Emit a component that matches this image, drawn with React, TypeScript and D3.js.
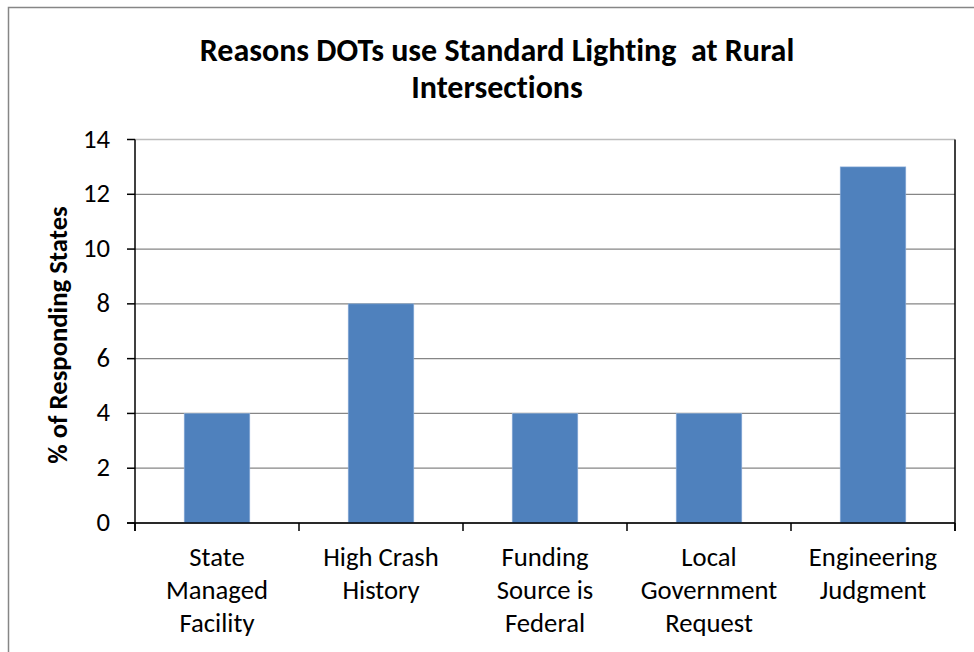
import React from "react";
import * as d3 from "d3";

const categories: string[][] = [
  ["State", "Managed", "Facility"],
  ["High Crash", "History"],
  ["Funding", "Source is", "Federal"],
  ["Local", "Government", "Request"],
  ["Engineering", "Judgment"],
];
const values: number[] = [4, 8, 4, 4, 13];
const yTicks: number[] = [0, 2, 4, 6, 8, 10, 12, 14];
const titleLines: string[] = ["Reasons DOTs use Standard Lighting  at Rural", "Intersections"];
const yTitle = "% of Responding States";

const W = 974;
const H = 652;
const FONT = "Carlito, Calibri, 'Open Sans', 'Liberation Sans', sans-serif";

export default function App() {
  const left = 135, right = 955, top = 139.5, bottom = 523;
  const keys = categories.map((c) => c.join(" "));
  const x = d3.scaleBand<string>().domain(keys).range([left, right]).paddingInner(0.6).paddingOuter(0.3);
  const xOuter = d3.scaleBand<string>().domain(keys).range([left, right]);
  const y = d3.scaleLinear().domain([0, 14]).range([bottom, top]);
  const tickXs = [left, ...keys.map((k) => (xOuter(k) as number) + xOuter.bandwidth())];

  return (
    <svg width={W} height={H} style={{ position: "absolute", left: 0, top: 0, display: "block", fontVariantLigatures: "none" }}>
      <rect x={0} y={0} width={W} height={H} fill="#fff" />
      <path d={`M8.5,${H} V7.5 H${W}`} fill="none" stroke="#868686" strokeWidth={1.5} />
      {titleLines.map((t, i) => (
        <text key={i} x={497} y={61 + i * 37} textAnchor="middle" fontFamily={FONT}
          fontWeight="bold" fontSize={32} fill="#000" style={{ whiteSpace: "pre" }}>{t}</text>
      ))}
      {yTicks.map((t) => (
        <line key={"g" + t} x1={left} x2={right} y1={y(t)} y2={y(t)}
          stroke={t === 14 ? "#bdbdbd" : "#868686"} strokeWidth={1.3} />
      ))}
      {values.map((v, i) => (
        <rect key={"b" + i} x={x(keys[i])} y={y(v)} width={x.bandwidth()} height={y(0) - y(v)}
          fill="#4F81BD" stroke="#8FB0DA" strokeWidth={0.6} />
      ))}
      <line x1={left} x2={left} y1={top} y2={bottom + 8} stroke="#000" strokeWidth={1.5} />
      <line x1={right} x2={right} y1={top} y2={bottom + 8} stroke="#000" strokeWidth={1.5} />
      <line x1={left - 8} x2={right} y1={bottom} y2={bottom} stroke="#000" strokeWidth={1.5} />
      {yTicks.map((t) => (
        <g key={"t" + t}>
          <line x1={left - 8} x2={left} y1={y(t)} y2={y(t)} stroke="#000" strokeWidth={1.5} />
          <text x={110} y={y(t) + 8} textAnchor="end" fontFamily={FONT} fontSize={26.7} fill="#000">{t}</text>
        </g>
      ))}
      {tickXs.map((tx, i) => (
        <line key={"xt" + i} x1={tx} x2={tx} y1={bottom} y2={bottom + 8} stroke="#000" strokeWidth={1.5} />
      ))}
      {categories.map((lines, i) => {
        const cx = (xOuter(keys[i]) as number) + xOuter.bandwidth() / 2;
        return lines.map((l, j) => (
          <text key={"c" + i + j} x={cx} y={566 + j * 33} textAnchor="middle" fontFamily={FONT}
            fontSize={26.7} fill="#000">{l}</text>
        ));
      })}
      <text transform={`translate(67,335) rotate(-90)`} textAnchor="middle"
        fontFamily={FONT} fontWeight="bold" fontSize={26.7} fill="#000">{yTitle}</text>
    </svg>
  );
}
